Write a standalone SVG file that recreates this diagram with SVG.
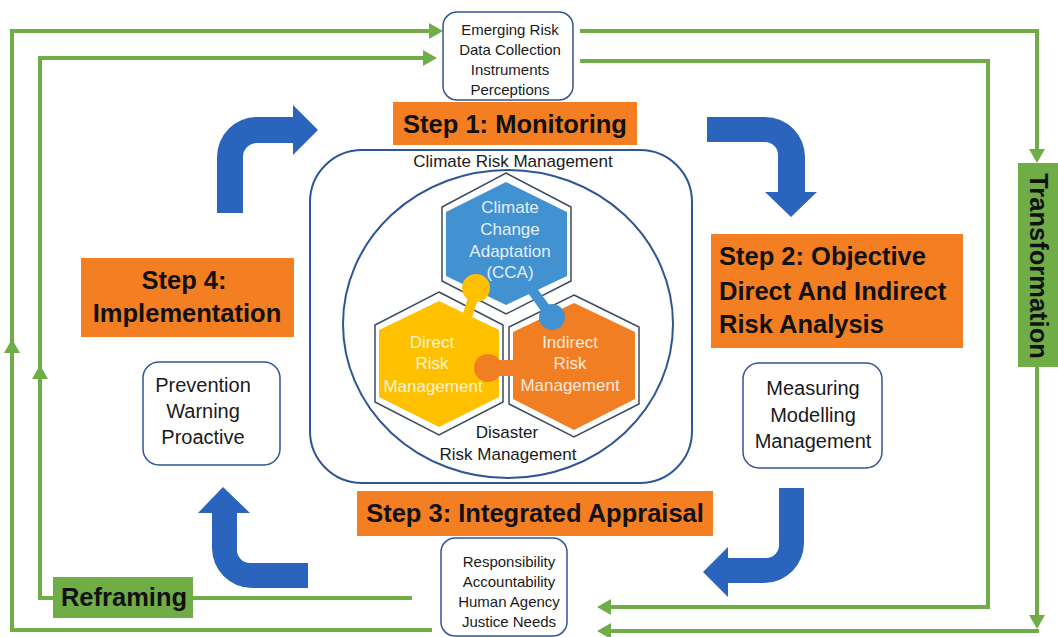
<svg xmlns="http://www.w3.org/2000/svg" width="1058" height="637" viewBox="0 0 1058 637">
<style>
.g{fill:none;stroke:#70AD47;stroke-width:4}
.gh{fill:#70AD47}
.step{fill:#F47E22}
.st{font-family:"Liberation Sans",Arial,sans-serif;font-weight:bold;font-size:25.5px;fill:#111}
.box{fill:#fff;stroke:#2F5597;stroke-width:1.5}
.t{font-family:"Liberation Sans",Arial,sans-serif;fill:#1a1a1a;text-anchor:middle}
.s15{font-size:15px}
.s20{font-size:20px}
.s17{font-size:17px}
.blue{fill:#2A64BC}
.hexo{fill:#fff;stroke:#3B4A60;stroke-width:1.5}
.ht{font-family:"Liberation Sans",Arial,sans-serif;font-size:17px;text-anchor:middle}
.gb{fill:#70AD47}
</style>
<defs>
<marker id="ah" markerUnits="userSpaceOnUse" markerWidth="14" markerHeight="16" refX="0" refY="8" orient="auto"><path d="M0,0 L14,8 L0,16 Z" fill="#70AD47"/></marker>
</defs>
<rect width="1058" height="637" fill="#fff"/>

<g id="connectors">
  <path class="g" d="M432,630 L12,630 L12,31 L429,31" marker-end="url(#ah)"/>
  <polygon class="gh" points="12,339 20,353 4,353"/>
  <path class="g" d="M412,598 L193,598"/>
  <path class="g" d="M53,598 L40,598 L40,58 L423,58" marker-end="url(#ah)"/>
  <polygon class="gh" points="40,365 48,379 32,379"/>
  <path class="g" d="M580,31 L1037,31 L1037,149" marker-end="url(#ah)"/>
  <path class="g" d="M580,61 L988,61 L988,607 L611,607" marker-end="url(#ah)"/>
  <path class="g" d="M1037,367 L1037,615" marker-end="url(#ah)"/>
  <path class="g" d="M1039,631 L611,631" marker-end="url(#ah)"/>
  <path class="blue" d="M217,213 L217,157 A40,40 0 0 1 257,117 L293,117 L293,105 L318,130 L293,155 L293,143 L257,143 A14,14 0 0 0 243,157 L243,213 Z"/>
  <path class="blue" d="M707,117 L765,117 A40,40 0 0 1 805,157 L805,192 L817,192 L791,217 L765,192 L778,192 L778,155 A13,13 0 0 0 765,142 L707,142 Z"/>
  <path class="blue" d="M779,488 L804,488 L804,543 A40,40 0 0 1 764,583 L728,583 L728,597 L703,572 L728,547 L728,558 L766,558 A13,13 0 0 0 779,545 Z"/>
  <path class="blue" d="M308,563 L250,563 A13,13 0 0 1 237,550 L237,513 L250,513 L223,487 L198,513 L212,513 L212,548 A40,40 0 0 0 252,588 L308,588 Z"/>
</g>

<g id="emerging">
  <rect class="box" x="443" y="12" width="130" height="88" rx="14"/>
  <text class="t s15" x="510" y="35">Emerging Risk</text>
  <text class="t s15" x="510" y="55">Data Collection</text>
  <text class="t s15" x="510" y="75">Instruments</text>
  <text class="t s15" x="510" y="95">Perceptions</text>
</g>

<g id="step1">
  <rect class="step" x="393" y="102" width="244" height="43"/>
  <text class="st" x="515" y="133" text-anchor="middle">Step 1: Monitoring</text>
</g>

<g id="climate-risk-management">
  <rect x="310" y="150" width="382" height="333" rx="52" fill="none" stroke="#2F5597" stroke-width="2"/>
  <text class="t s17" x="513" y="167">Climate Risk Management</text>
</g>

<g id="disaster-risk-management">
  <ellipse cx="508" cy="324" rx="165" ry="154" fill="none" stroke="#2F5597" stroke-width="2"/>
  <text class="t s17" x="507" y="438">Disaster</text>
  <text class="t s17" x="508" y="460">Risk Management</text>
</g>

<g id="cca">
  <polygon class="hexo" points="506,173 571,207 571,281 506,314 442,281 442,207"/>
  <polygon fill="#4291D0" points="506,182 567,212 567,276 506,305 446,276 446,212"/>
</g>
<g id="direct">
  <polygon class="hexo" points="439,292 503,325 503,402 439,435 375,402 375,325"/>
  <polygon fill="#FFC000" points="439,301 499,330 499,397 439,427 379,397 379,330"/>
</g>
<g id="indirect">
  <polygon class="hexo" points="574,295 639,327 639,404 574,437 509,404 509,327"/>
  <polygon fill="#F27E24" points="574,303 635,332 635,399 574,430 513,399 513,332"/>
</g>

<g id="links">
  <line x1="466" y1="320" x2="476" y2="289" stroke="#FFC000" stroke-width="10"/>
  <circle cx="476" cy="288" r="14" fill="#FFC000"/>
  <line x1="532" y1="290" x2="551" y2="316" stroke="#4291D0" stroke-width="10"/>
  <circle cx="552" cy="317" r="13" fill="#4291D0"/>
  <line x1="488" y1="368" x2="514" y2="368" stroke="#F27E24" stroke-width="16"/>
  <circle cx="488" cy="368" r="14" fill="#F27E24"/>
</g>

<g id="hex-labels">
  <text class="ht" fill="#E4EFF9" x="510" y="213">Climate</text>
  <text class="ht" fill="#E4EFF9" x="510" y="235">Change</text>
  <text class="ht" fill="#E4EFF9" x="510" y="257">Adaptation</text>
  <text class="ht" fill="#E4EFF9" x="510" y="278">(CCA)</text>
  <text class="ht" fill="#FFF5D6" x="432" y="348">Direct</text>
  <text class="ht" fill="#FFF5D6" x="432" y="369">Risk</text>
  <text class="ht" fill="#FFF5D6" x="433" y="392">Management</text>
  <text class="ht" fill="#FDEBDD" x="570" y="348">Indirect</text>
  <text class="ht" fill="#FDEBDD" x="570" y="369">Risk</text>
  <text class="ht" fill="#FDEBDD" x="570" y="391">Management</text>
</g>

<g id="step2">
  <rect class="step" x="711" y="234" width="252" height="114"/>
  <text class="st" x="719" y="265">Step 2: Objective</text>
  <text class="st" x="719" y="300">Direct And Indirect</text>
  <text class="st" x="719" y="333">Risk Analysis</text>
</g>

<g id="measuring">
  <rect class="box" x="743" y="363" width="139" height="105" rx="16"/>
  <text class="t s20" x="813" y="395">Measuring</text>
  <text class="t s20" x="813" y="422">Modelling</text>
  <text class="t s20" x="813" y="448">Management</text>
</g>

<g id="step3">
  <rect class="step" x="357" y="491" width="356" height="45"/>
  <text class="st" x="535" y="522" text-anchor="middle">Step 3: Integrated Appraisal</text>
</g>

<g id="responsibility">
  <rect class="box" x="441" y="538" width="126" height="98" rx="14"/>
  <text class="t s15" x="509" y="567">Responsibility</text>
  <text class="t s15" x="509" y="587">Accountability</text>
  <text class="t s15" x="509" y="607">Human Agency</text>
  <text class="t s15" x="509" y="627">Justice Needs</text>
</g>

<g id="step4">
  <rect class="step" x="81" y="258" width="213" height="79"/>
  <text class="st" x="184" y="289" text-anchor="middle">Step 4:</text>
  <text class="st" x="187" y="322" text-anchor="middle">Implementation</text>
</g>

<g id="prevention">
  <rect class="box" x="143" y="362" width="137" height="103" rx="16"/>
  <text class="t s20" x="203" y="392">Prevention</text>
  <text class="t s20" x="203" y="418">Warning</text>
  <text class="t s20" x="203" y="444">Proactive</text>
</g>

<g id="reframing">
  <rect class="gb" x="53" y="577" width="140" height="41"/>
  <text class="st" x="124" y="606" text-anchor="middle" font-size="24.5">Reframing</text>
</g>

<g id="transformation">
  <rect class="gb" x="1018" y="163" width="40" height="204"/>
  <text class="st" transform="translate(1030,266) rotate(90)" x="0" y="0" text-anchor="middle" font-size="24.5">Transformation</text>
</g>
</svg>
